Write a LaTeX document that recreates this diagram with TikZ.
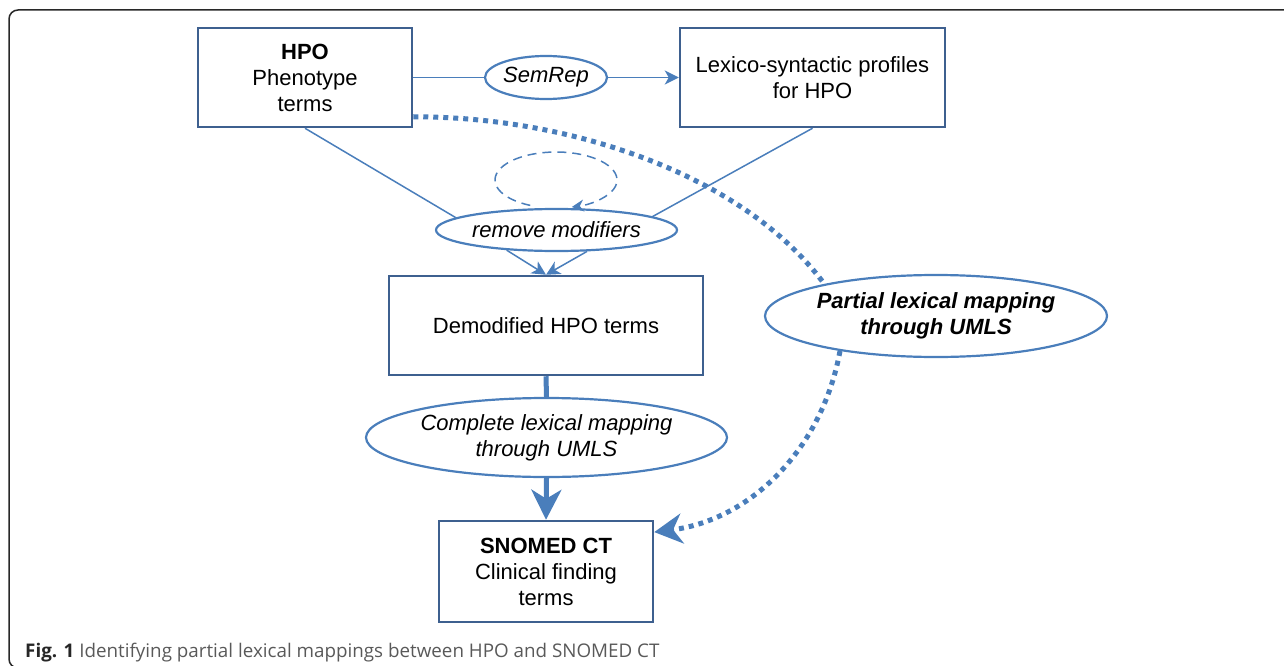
\documentclass[tikz,border=0pt]{standalone}
\usepackage{fontspec}
\setmainfont{Liberation Sans}
\newfontfamily\capfont{Open Sans}
\usetikzlibrary{arrows.meta,shapes.geometric}
\definecolor{lineblue}{RGB}{74,126,187}
\definecolor{boxblue}{RGB}{62,96,143}
\definecolor{framegray}{RGB}{40,40,40}
\begin{document}
\begin{tikzpicture}[x=1pt,y=-1pt,font=\fontsize{22}{26}\selectfont,
  box/.style={draw=boxblue, line width=2.5pt, rectangle, inner sep=0pt, align=center, text=black},
  oval/.style={draw=lineblue, line width=2.2pt, ellipse, inner sep=0pt, align=center, text=black},
  conn/.style={draw=lineblue, line width=1.5pt},
  tip/.style={-{Stealth[length=14pt,width=14pt,inset=4pt]}},
  heavy/.style={draw=lineblue, line width=5pt},
  dots/.style={draw=lineblue, line width=5pt, dash pattern=on 5pt off 5pt},
  loopdash/.style={draw=lineblue, line width=1.5pt, dash pattern=on 9pt off 6pt}]
\useasboundingbox (0,0) rectangle (1284,666);
\begin{scope}
\clip (0,0) rectangle (1284,666);
\draw[framegray, line width=1.5pt, rounded corners=9pt] (9,10) rectangle (1320,668);
\end{scope}

\node[box, minimum width=214pt, minimum height=99pt] (hpo) at (305,77.5) {\textbf{HPO}\\Phenotype\\terms};
\node[box, minimum width=265pt, minimum height=99pt] (lex) at (812.5,77.5) {Lexico-syntactic profiles\\for HPO};
\node[oval, minimum width=122pt, minimum height=43pt] (semrep) at (546,77.5) {\itshape SemRep};
\node[oval, minimum width=241pt, minimum height=42pt] (rm) at (556.5,230) {\itshape remove modifiers};
\node[box, minimum width=314pt, minimum height=99pt] (demod) at (546,325.5) {Demodified HPO terms};
\node[oval, minimum width=361pt, minimum height=79pt] (complete) at (546.5,437.5) {\itshape Complete lexical mapping\\\itshape through UMLS};
\node[oval, minimum width=342pt, minimum height=82pt] (partial) at (936,316) {\bfseries\itshape Partial lexical mapping\\\bfseries\itshape through UMLS};
\node[box, minimum width=214pt, minimum height=101pt] (snomed) at (546,571.5) {\textbf{SNOMED CT}\\Clinical finding\\terms};
\coordinate (loopc) at (556,180);

\draw[conn] (hpo.east) -- (semrep.west);
\draw[conn, tip] (semrep.east) -- (lex.west);
\draw[conn] (hpo.south) -- (rm.173);
\draw[conn] (lex.south) -- (rm.8);
\draw[conn, tip] (rm.202) -- (demod.north);
\draw[conn, tip] (rm.325) -- (demod.north);
\draw[loopdash, -{Stealth[length=12pt,width=12pt,inset=4pt]}] ([shift={(115:61 and 28)}]loopc) arc[start angle=115, end angle=435, x radius=61, y radius=28];

\draw[heavy] (demod.south) -- (complete.north);
\draw[heavy, -{Stealth[length=30pt,width=30pt,inset=9pt]}] (complete.south) -- (snomed.north);

\draw[dots] (hpo.-20) .. controls (560,116) and (740,170) .. (partial.164);
\draw[dots, -{Stealth[length=28pt,width=30pt,inset=9pt]}] (partial.200) .. controls (822,450) and (750,520) .. (snomed.20);

\node[anchor=base west, inner sep=0pt, text=black!65, font=\capfont\fontsize{18.8}{22}\selectfont] (cap) at (25,657) {\textcolor{black!85}{\textbf{Fig. 1}} Identifying partial lexical mappings between HPO and SNOMED CT};
\end{tikzpicture}
\end{document}
